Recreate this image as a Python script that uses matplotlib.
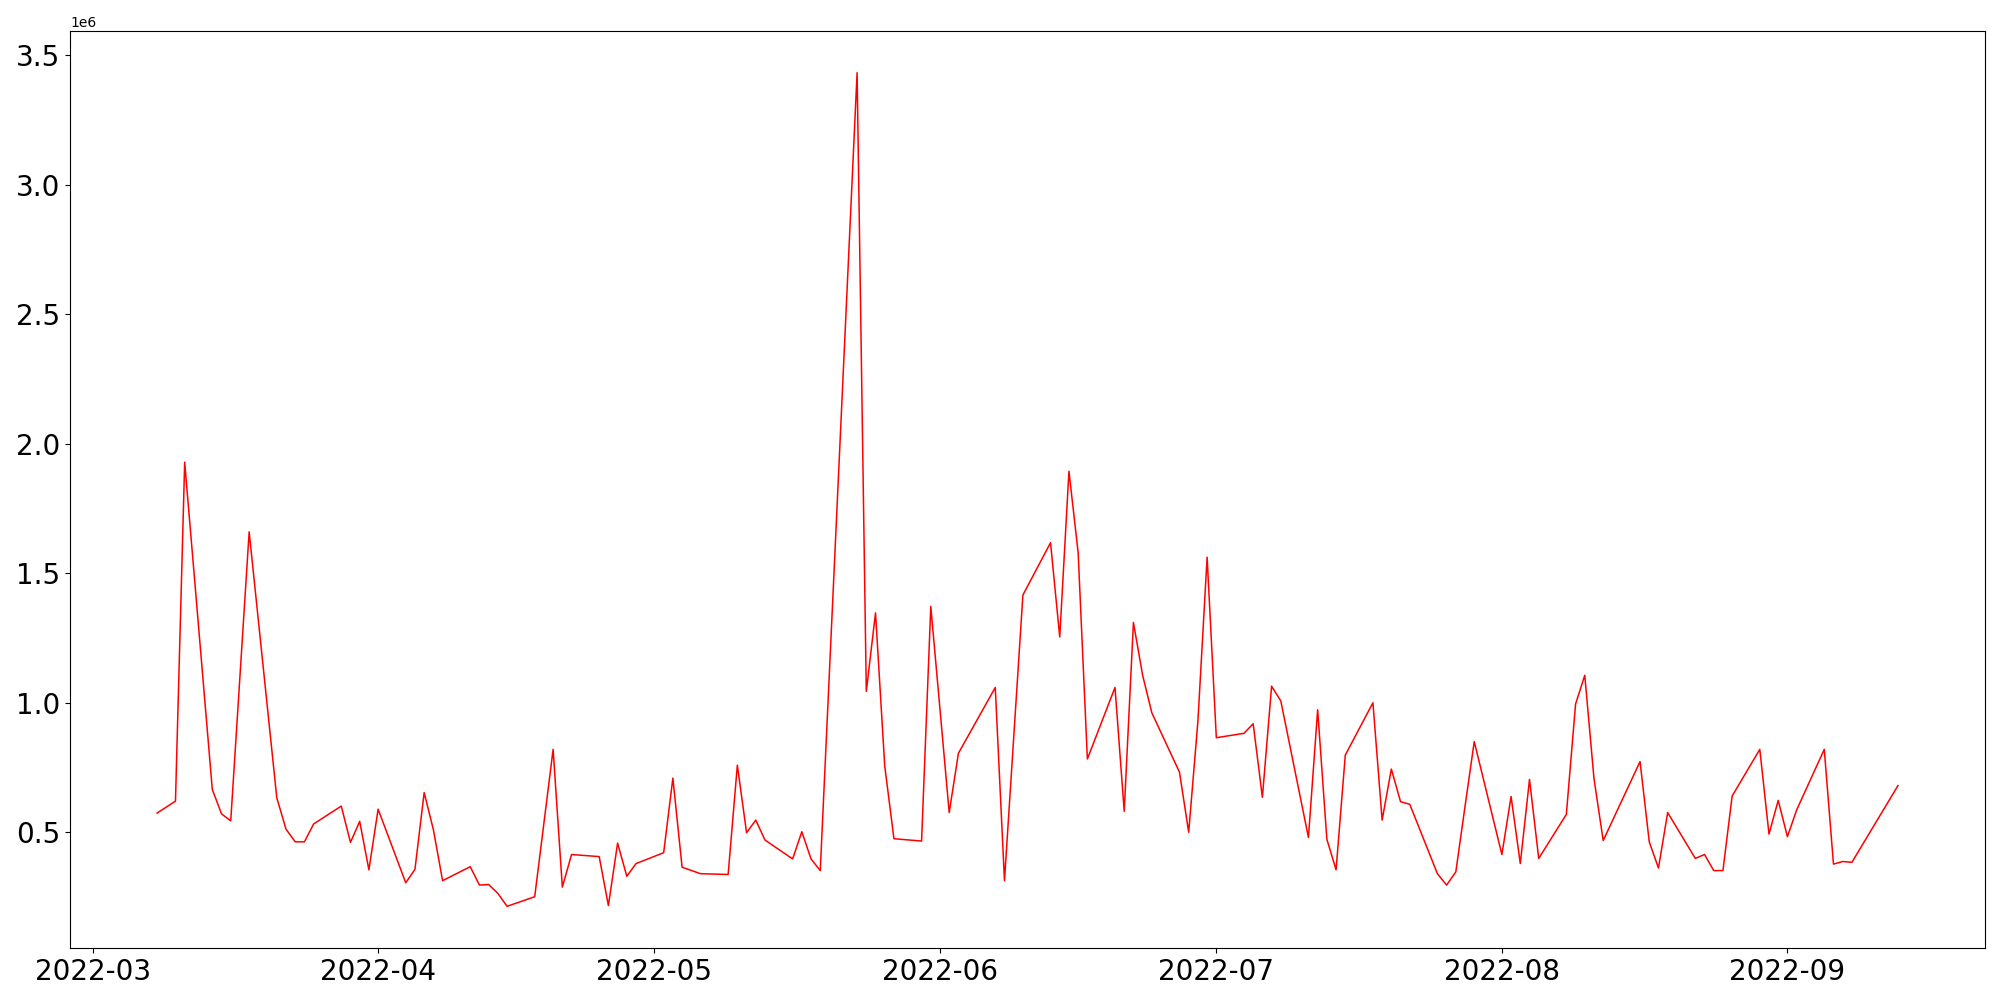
import pandas as pd
import matplotlib
matplotlib.use("Agg")
import matplotlib.pyplot as plt

# Values (daily points, values in units of 1e6)
dates = [
    "2022-03-08", "2022-03-10", "2022-03-11", "2022-03-14", "2022-03-15",
    "2022-03-16", "2022-03-18", "2022-03-21", "2022-03-22", "2022-03-23",
    "2022-03-24", "2022-03-25", "2022-03-28", "2022-03-29", "2022-03-30",
    "2022-03-31", "2022-04-01", "2022-04-04", "2022-04-05", "2022-04-06",
    "2022-04-07", "2022-04-08", "2022-04-11", "2022-04-12", "2022-04-13",
    "2022-04-14", "2022-04-15", "2022-04-18", "2022-04-20", "2022-04-21",
    "2022-04-22", "2022-04-25", "2022-04-26", "2022-04-27", "2022-04-28",
    "2022-04-29", "2022-05-02", "2022-05-03", "2022-05-04", "2022-05-06",
    "2022-05-09", "2022-05-10", "2022-05-11", "2022-05-12", "2022-05-13",
    "2022-05-16", "2022-05-17", "2022-05-18", "2022-05-19", "2022-05-23",
    "2022-05-24", "2022-05-25", "2022-05-26", "2022-05-27", "2022-05-30",
    "2022-05-31", "2022-06-02", "2022-06-03", "2022-06-07", "2022-06-08",
    "2022-06-10", "2022-06-13", "2022-06-14", "2022-06-15", "2022-06-16",
    "2022-06-17", "2022-06-20", "2022-06-21", "2022-06-22", "2022-06-23",
    "2022-06-24", "2022-06-27", "2022-06-28", "2022-06-29", "2022-06-30",
    "2022-07-01", "2022-07-04", "2022-07-05", "2022-07-06", "2022-07-07",
    "2022-07-08", "2022-07-11", "2022-07-12", "2022-07-13", "2022-07-14",
    "2022-07-15", "2022-07-18", "2022-07-19", "2022-07-20", "2022-07-21",
    "2022-07-22", "2022-07-25", "2022-07-26", "2022-07-27", "2022-07-28",
    "2022-07-29", "2022-08-01", "2022-08-02", "2022-08-03", "2022-08-04",
    "2022-08-05", "2022-08-08", "2022-08-09", "2022-08-10", "2022-08-11",
    "2022-08-12", "2022-08-16", "2022-08-17", "2022-08-18", "2022-08-19",
    "2022-08-22", "2022-08-23", "2022-08-24", "2022-08-25", "2022-08-26",
    "2022-08-29", "2022-08-30", "2022-08-31", "2022-09-01", "2022-09-02",
    "2022-09-05", "2022-09-06", "2022-09-07", "2022-09-08", "2022-09-13",
]

values = [
    0.574, 0.620, 1.929, 0.665, 0.571,
    0.544, 1.660, 0.633, 0.512, 0.463,
    0.463, 0.532, 0.601, 0.461, 0.542,
    0.355, 0.589, 0.305, 0.357, 0.653,
    0.510, 0.313, 0.367, 0.296, 0.298,
    0.264, 0.214, 0.251, 0.820, 0.288,
    0.414, 0.406, 0.217, 0.458, 0.330,
    0.379, 0.421, 0.709, 0.365, 0.340,
    0.337, 0.759, 0.498, 0.547, 0.470,
    0.397, 0.502, 0.397, 0.352, 3.433,
    1.044, 1.347, 0.756, 0.475, 0.466,
    1.372, 0.576, 0.805, 1.059, 0.313,
    1.416, 1.618, 1.254, 1.894, 1.579,
    0.783, 1.059, 0.581, 1.310, 1.106,
    0.961, 0.732, 0.500, 0.929, 1.562,
    0.865, 0.882, 0.919, 0.635, 1.064,
    1.007, 0.480, 0.973, 0.473, 0.355,
    0.798, 1.000, 0.547, 0.744, 0.618,
    0.608, 0.340, 0.296, 0.347, 0.600,
    0.850, 0.414, 0.638, 0.379, 0.704,
    0.399, 0.569, 0.995, 1.106, 0.707,
    0.468, 0.773, 0.463, 0.362, 0.576,
    0.399, 0.414, 0.352, 0.352, 0.640,
    0.820, 0.493, 0.623, 0.483, 0.586,
    0.820, 0.377, 0.387, 0.384, 0.680,
]

x = pd.to_datetime(dates)
y = [v * 1e6 for v in values]

fig, ax = plt.subplots(figsize=(20, 10), dpi=100)
fig.subplots_adjust(left=0.035, right=0.9925, top=0.969, bottom=0.052)

ax.plot(x, y, color="red", linewidth=1.1)
ax.tick_params(axis="both", labelsize=20)

fig.savefig("out.png")
